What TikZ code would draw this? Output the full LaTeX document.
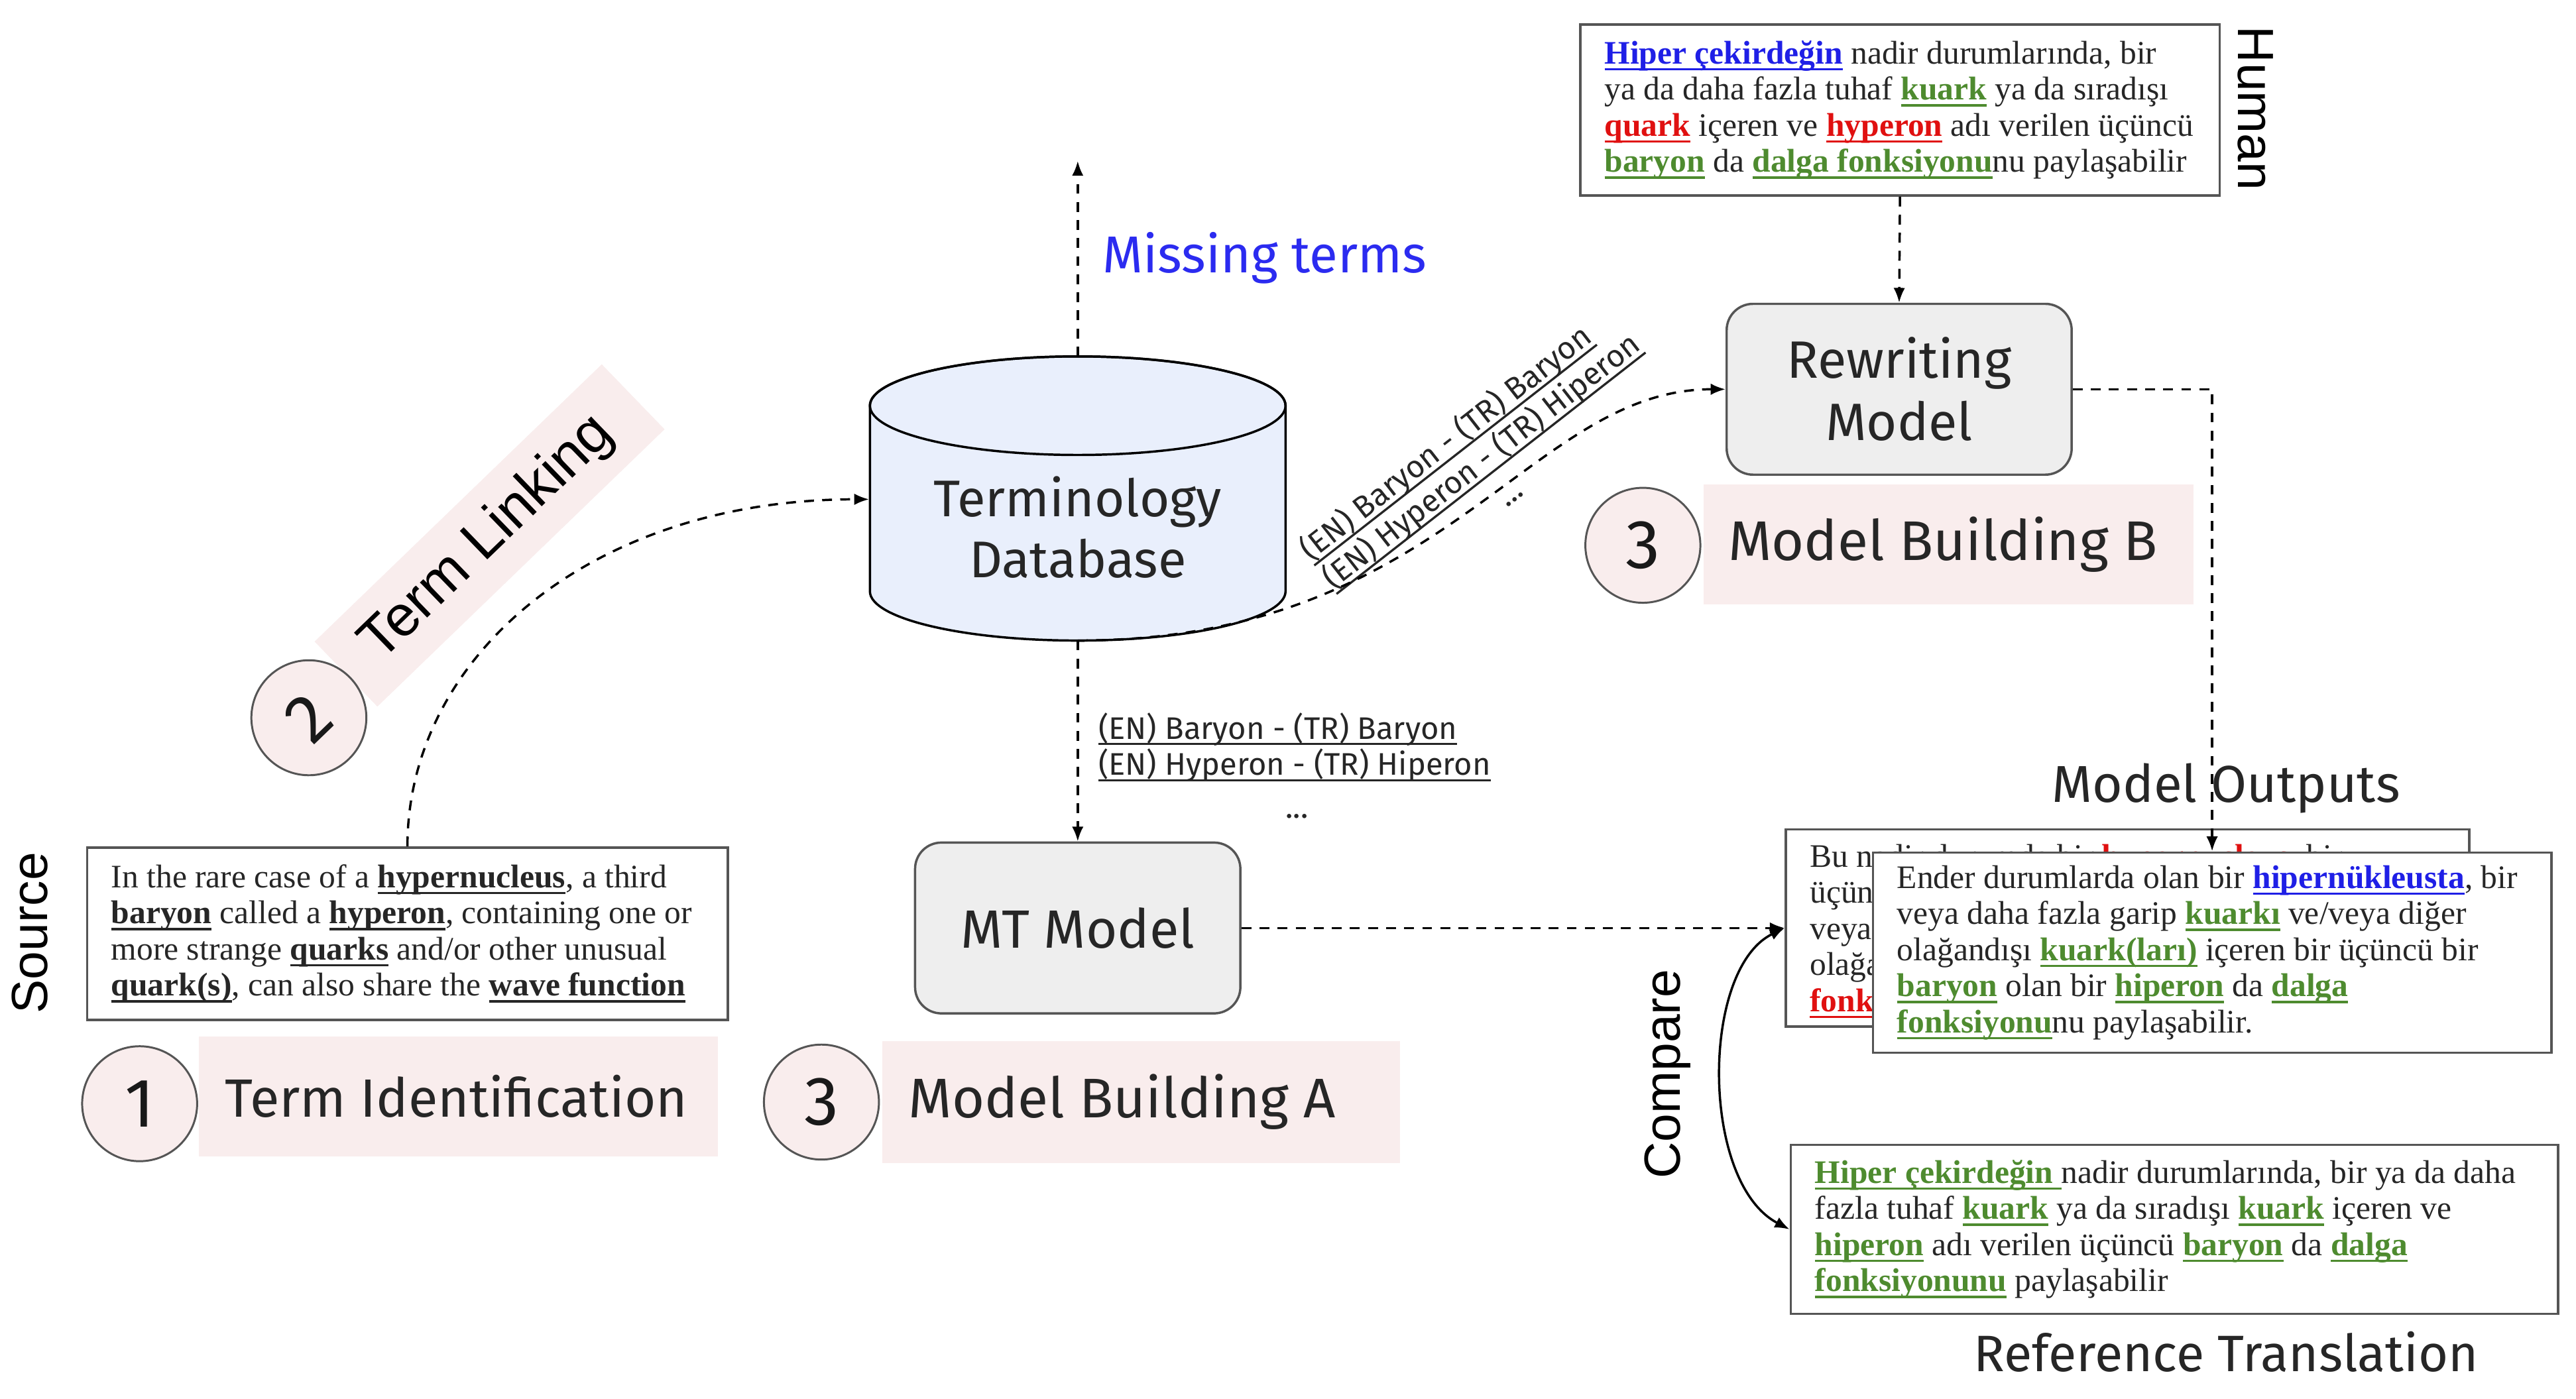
\documentclass[tikz,border=0pt]{standalone}
\usepackage{fontspec}
\setmainfont{Liberation Serif}
\newfontfamily\fira{Fira Sans}
\newfontfamily\arialf{Liberation Sans}
\usetikzlibrary{arrows.meta}
\definecolor{tblue}{HTML}{1F1FE6}
\definecolor{tgreen}{HTML}{4E8B2F}
\definecolor{tred}{HTML}{E01010}
\definecolor{pinkf}{HTML}{F9EDED}
\definecolor{grayf}{HTML}{EEEEEE}
\definecolor{dbf}{HTML}{E9EFFC}
\definecolor{missblue}{HTML}{2B2BF0}
\definecolor{edge}{HTML}{555555}
\definecolor{txt}{HTML}{262626}
\newsavebox\ulbox
\newcommand\ulw[1]{\leavevmode\sbox\ulbox{#1}\rlap{\rule[-0.2em]{\wd\ulbox}{0.07em}}\usebox\ulbox}
\newcommand\tk[1]{{\bfseries\ulw{#1}}}
\newcommand\tbl[1]{{\color{tblue}\bfseries\ulw{#1}}}
\newcommand\tgr[1]{{\color{tgreen}\bfseries\ulw{#1}}}
\newcommand\trd[1]{{\color{tred}\bfseries\ulw{#1}}}
\tikzset{
  tbox/.style={draw=edge, line width=0.7pt, fill=white, inner sep=0pt},
  ttext/.style={inner sep=0pt, anchor=west, align=left, text=txt, font=\fontsize{10}{11}\selectfont},
  modelbox/.style={draw=edge, fill=grayf, rounded corners=8pt, line width=0.7pt, inner sep=0pt, align=center, text=black!85, font=\fira\fontsize{16}{19}\selectfont},
  pinkbar/.style={fill=pinkf, inner sep=0pt},
  stepc/.style={circle, draw=edge, fill=pinkf, line width=0.6pt, minimum size=35pt, inner sep=0pt, text=black!90, font=\fira\fontsize{21}{21}\selectfont},
  steplbl/.style={inner sep=0pt, anchor=west, text=black!85, font=\fira\fontsize{17}{20}\selectfont},
  mainlbl/.style={inner sep=0pt, text=black!85, font=\fira\fontsize{15.8}{19}\selectfont},
  sidelbl/.style={inner sep=0pt, font=\arialf\fontsize{15.5}{18}\selectfont},
  smalllbl/.style={inner sep=0pt, align=left, text=black!85, font=\fira\fontsize{9.5}{11}\selectfont},
  dasharrow/.style={line width=0.7pt, dash pattern=on 3pt off 2.5pt, -{Latex[length=4.5pt,width=3.5pt]}},
  solidarrow/.style={line width=0.7pt, {Latex[length=4.5pt,width=3.5pt]}-{Latex[length=4.5pt,width=3.5pt]}}
}
\begin{document}
\begin{tikzpicture}[x=0.5pt, y=-0.5pt]
\useasboundingbox (0,0) rectangle (1568,851.4);
\fill[white] (0,0) rectangle (1568,851.4);

% ---------- Human box ----------
\node[tbox, minimum width=194.5pt, minimum height=52pt] (human) at (1156.5,67) {};
\node[ttext] (humant) at ([xshift=7.5pt]human.west) {\tbl{Hiper çekirdeğin} nadir durumlarında, bir\\
ya da daha fazla tuhaf \tgr{kuark} ya da sıradışı\\
\trd{quark} içeren ve \trd{hyperon} adı verilen üçüncü\\
\tgr{baryon} da \tgr{dalga fonksiyonu}nu paylaşabilir};
\node[sidelbl, rotate=-90] (humanl) at (1373,66) {Human};

% ---------- Rewriting model ----------
\node[modelbox, minimum width=105pt, minimum height=52pt] (rew) at (1156,237) {Rewriting\\Model};
\node[stepc] (c3b) at (1000,332) {3};
\node[pinkbar, minimum width=149pt, minimum height=36.5pt] (mbb) at (1186,331.5) {};
\node[steplbl] (mbbt) at ([xshift=7.5pt]mbb.west) {Model Building B};

% ---------- Terminology database ----------
\filldraw[fill=dbf, draw=black, line width=0.7pt] (529.5,247) -- (529.5,360)
  arc[start angle=180, end angle=360, x radius=63.25pt, y radius=15pt] -- (782.5,247)
  arc[start angle=0, end angle=180, x radius=63.25pt, y radius=15pt] -- cycle;
\draw[line width=0.7pt] (656,247) ellipse [x radius=63.25pt, y radius=15pt];
\node[mainlbl, align=center, font=\fira\fontsize{15.7}{18.5}\selectfont] (db) at (656,321) {Terminology\\Database};
\coordinate (dbtop) at (656,217);
\coordinate (dbbot) at (656,390);
\coordinate (dbleft) at (529,304);
\coordinate (mtop) at (656,98);
\node[mainlbl, anchor=west, text=missblue] (miss) at (671,157) {Missing terms};

% ---------- Term linking ----------
\node[pinkbar, rotate=44, minimum width=121.5pt, minimum height=27.5pt] (tlb) at (298,326) {};
\node[inner sep=0pt, rotate=44, font=\arialf\fontsize{17.5}{19}\selectfont] (tlt) at (297,328) {Term Linking};
\node[stepc, rotate=44] (c2) at (188,437) {2};

% ---------- Source ----------
\node[tbox, minimum width=195pt, minimum height=52.5pt] (src) at (248,568.5) {};
\node[ttext] (srct) at ([xshift=7.5pt]src.west) {In the rare case of a \tk{hypernucleus}, a third\\
\tk{baryon} called a \tk{hyperon}, containing one or\\
more strange \tk{quarks} and/or other unusual\\
\tk{quark(s)}, can also share the \tk{wave function}};
\node[sidelbl, rotate=90] (srcl) at (18,568) {Source};
\node[stepc] (c1) at (85,672) {1};
\node[pinkbar, minimum width=158pt, minimum height=36.5pt] (tib) at (279,667.5) {};
\node[steplbl, font=\fira\fontsize{16.4}{20}\selectfont] (tit) at ([xshift=8pt]tib.west) {Term Identification};

% ---------- MT model ----------
\node[modelbox, minimum width=99pt, minimum height=52pt, font=\fira\fontsize{16.4}{19}\selectfont] (mt) at (656,565) {MT Model};
\node[stepc] (c3a) at (500,671) {3};
\node[pinkbar, minimum width=157.5pt, minimum height=37pt] (mba) at (694.5,671) {};
\node[steplbl] (mbat) at ([xshift=8pt]mba.west) {Model Building A};

% ---------- term pair labels ----------
\node[smalllbl] (pairs) at (788,466) {\ulw{(EN) Baryon - (TR) Baryon}\\\ulw{(EN) Hyperon - (TR) Hiperon}\\[2pt]\hspace*{57pt}...};
\node[smalllbl, rotate=38] (pairsd) at (902,281) {\ulw{(EN) Baryon - (TR) Baryon}\\\ulw{(EN) Hyperon - (TR) Hiperon}\\[2pt]\hspace*{57pt}...};

% ---------- Model outputs ----------
\node[mainlbl] (mol) at (1355,480) {Model Outputs};
\node[tbox, minimum width=208pt, minimum height=60pt] (out1) at (1295,565) {};
\node[ttext] (out1t) at ([xshift=7.5pt,yshift=-1pt]out1.west) {Bu nadir durumda bir \trd{hypernucleus}, bir\\
üçüncü\\
veya\\
olağandışı\\
\trd{fonksiyonu}};
\node[tbox, minimum width=206.5pt, minimum height=61pt] (out2) at (1346.5,580) {};
\node[ttext] (out2t) at ([xshift=7.5pt]out2.west) {Ender durumlarda olan bir \tbl{hipernükleusta}, bir\\
veya daha fazla garip \tgr{kuarkı} ve/veya diğer\\
olağandışı \tgr{kuark(ları)} içeren bir üçüncü bir\\
\tgr{baryon} olan bir \tgr{hiperon} da \tgr{dalga}\\
\tgr{fonksiyonu}nu paylaşabilir.};

% ---------- Reference ----------
\node[tbox, minimum width=233.5pt, minimum height=51.5pt] (ref) at (1323.5,748.5) {};
\node[ttext] (reft) at ([xshift=7.5pt]ref.west) {\tgr{Hiper çekirdeğin\ }nadir durumlarında, bir ya da daha\\
fazla tuhaf \tgr{kuark} ya da sıradışı \tgr{kuark} içeren ve\\
\tgr{hiperon} adı verilen üçüncü \tgr{baryon} da \tgr{dalga}\\
\tgr{fonksiyonunu} paylaşabilir};
\node[mainlbl, font=\fira\fontsize{15.6}{18}\selectfont] (refl) at (1355,823) {Reference Translation};
\node[sidelbl, rotate=90] (cmpl) at (1015,654) {Compare};

% ---------- connectors ----------
\draw[dasharrow] (human.south) -- (rew.north);
\draw[dasharrow] (rew.east) -| (out2.north);
\draw[dasharrow] (dbtop) -- (mtop);
\draw[dasharrow] (dbbot) -- (mt.north);
\draw[dasharrow] (src.north) .. controls (248,400) and (360,304) .. (dbleft);
\draw[dasharrow] (dbbot) .. controls (880,390) and (930,237) .. (rew.west);
\draw[dasharrow] (mt.east) -- (out1.west);
\draw[solidarrow] (out1.west) .. controls (1035,590) and (1035,720) .. (ref.west);
\end{tikzpicture}
\end{document}
